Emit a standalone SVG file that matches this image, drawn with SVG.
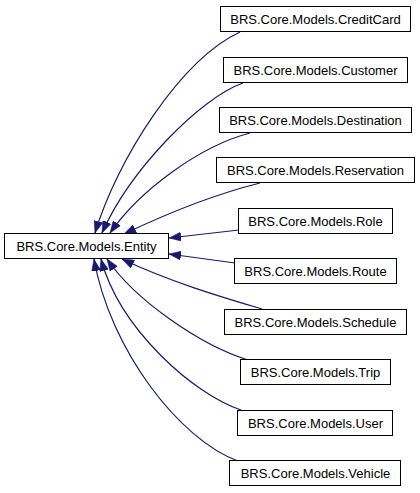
<svg xmlns="http://www.w3.org/2000/svg" width="420" height="493" viewBox="0 0 420 493">
<style>
.box{fill:#ffffff;stroke:#000000;stroke-width:1}
.lbl{font-family:"Liberation Sans",Arial,sans-serif;font-size:13px;fill:#000000;text-anchor:middle}
.edge{fill:none;stroke:#191970;stroke-width:1.2}
</style>
<defs>
<marker id="ah" markerUnits="userSpaceOnUse" markerWidth="12" markerHeight="9" refX="12" refY="4.5" orient="auto">
<path d="M0,0 L12,4.5 L0,9 z" fill="#191970" stroke="#191970" stroke-width="0.5"/>
</marker>
</defs>
<rect width="420" height="493" fill="#ffffff"/>
<g id="edges">
<path class="edge" marker-end="url(#ah)" d="M240,32 C180,60 117,160 95,233"/>
<path class="edge" marker-end="url(#ah)" d="M243,83 C200,98 130,170 102,233"/>
<path class="edge" marker-end="url(#ah)" d="M250,133 C200,146 140,190 110,233"/>
<path class="edge" marker-end="url(#ah)" d="M260,183 C220,193 170,212 124,234"/>
<path class="edge" marker-end="url(#ah)" d="M239,230 L169,238"/>
<path class="edge" marker-end="url(#ah)" d="M235,263 L169,254"/>
<path class="edge" marker-end="url(#ah)" d="M262,309 C225,298 170,282 122,259"/>
<path class="edge" marker-end="url(#ah)" d="M248,360 C200,345 135,300 107,259"/>
<path class="edge" marker-end="url(#ah)" d="M241,410 C195,395 120,330 101,259"/>
<path class="edge" marker-end="url(#ah)" d="M238,461 C180,440 110,350 94,259"/>
</g>
<g id="node-entity"><rect class="box" x="4.5" y="233.5" width="164" height="25"/><text class="lbl" x="86.5" y="250.5">BRS.Core.Models.Entity</text></g>
<g id="node-creditcard"><rect class="box" x="220.5" y="6.5" width="190" height="25"/><text class="lbl" x="315.5" y="23.5">BRS.Core.Models.CreditCard</text></g>
<g id="node-customer"><rect class="box" x="223.5" y="57.5" width="184" height="25"/><text class="lbl" x="315.5" y="74.5">BRS.Core.Models.Customer</text></g>
<g id="node-destination"><rect class="box" x="219.5" y="107.5" width="192" height="25"/><text class="lbl" x="315.5" y="124.5">BRS.Core.Models.Destination</text></g>
<g id="node-reservation"><rect class="box" x="216.5" y="157.5" width="198" height="25"/><text class="lbl" x="315.5" y="174.5">BRS.Core.Models.Reservation</text></g>
<g id="node-role"><rect class="box" x="238.5" y="208.5" width="154" height="25"/><text class="lbl" x="315.5" y="225.5">BRS.Core.Models.Role</text></g>
<g id="node-route"><rect class="box" x="234.5" y="258.5" width="162" height="25"/><text class="lbl" x="315.5" y="275.5">BRS.Core.Models.Route</text></g>
<g id="node-schedule"><rect class="box" x="224.5" y="309.5" width="182" height="25"/><text class="lbl" x="315.5" y="326.5">BRS.Core.Models.Schedule</text></g>
<g id="node-trip"><rect class="box" x="240.5" y="359.5" width="150" height="25"/><text class="lbl" x="315.5" y="376.5">BRS.Core.Models.Trip</text></g>
<g id="node-user"><rect class="box" x="237.5" y="410.5" width="155" height="25"/><text class="lbl" x="315.5" y="427.5">BRS.Core.Models.User</text></g>
<g id="node-vehicle"><rect class="box" x="229.5" y="460.5" width="171" height="25"/><text class="lbl" x="315.5" y="477.5">BRS.Core.Models.Vehicle</text></g>
</svg>
